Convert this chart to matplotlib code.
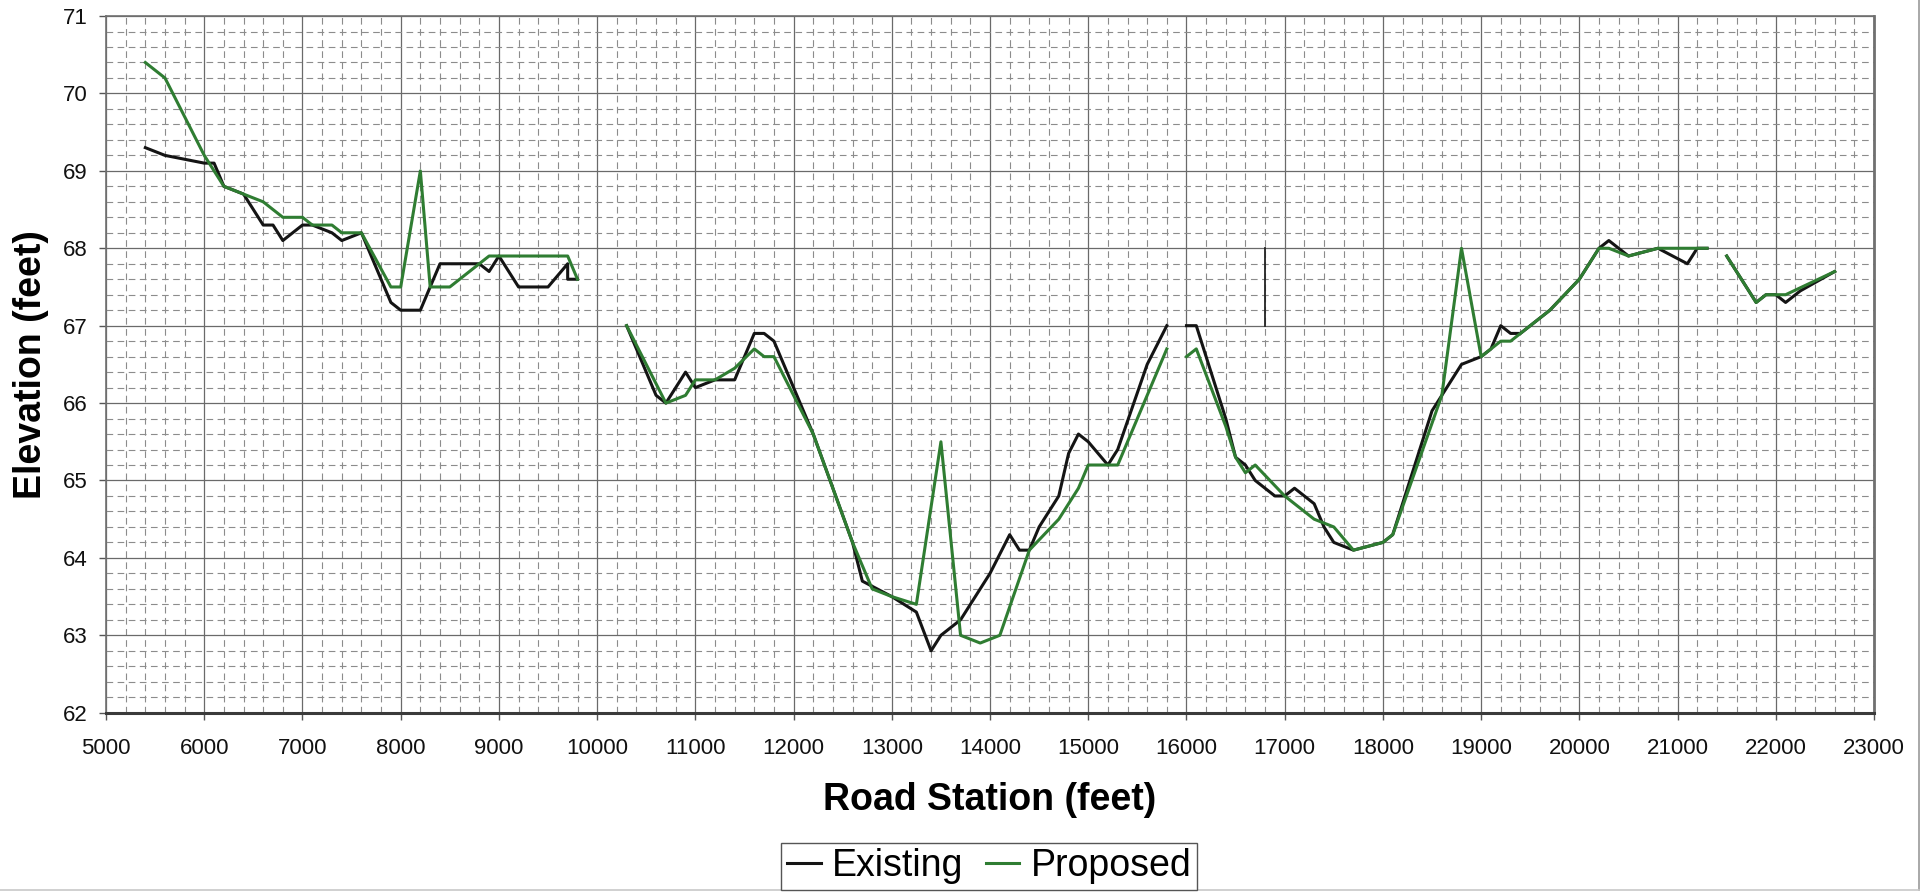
import numpy as np
import matplotlib
matplotlib.use("Agg")
import matplotlib.pyplot as plt
from matplotlib.ticker import MultipleLocator
from matplotlib.lines import Line2D

plt.rcParams["font.family"] = ["Liberation Sans", "DejaVu Sans"]

nan = np.nan

# existing road profile (station ft, elevation ft); nan marks a gap in the survey
existing_station = [
    5400, 5600, 6000, 6100, 6200, 6400, 6600, 6700, 6800, 7000, 7100, 7300, 7400, 7600,
    7900, 8000, 8200, 8400, 8800, 8900, 9000, 9200, 9500, 9700, 9700, 9800, 9900,
    10300, 10600, 10700, 10900, 11000, 11200, 11400, 11600, 11700, 11800, 12200, 12600,
    12700, 13000, 13250, 13400, 13500, 13600, 13700, 13900, 14000, 14200, 14300, 14400,
    14500, 14700, 14800, 14900, 15000, 15200, 15300, 15600, 15800, 15900,
    16000, 16100, 16300, 16400, 16500, 16600, 16700, 16900, 17000, 17100, 17300, 17400,
    17500, 17700, 18000, 18100, 18500, 18600, 18800, 19000, 19100, 19200, 19300, 19400,
    19700, 20000, 20200, 20300, 20500, 20800, 21100, 21200, 21300, 21400,
    21500, 21800, 21900, 22000, 22100, 22250, 22600,
]
existing_elev = [
    69.3, 69.2, 69.1, 69.1, 68.8, 68.7, 68.3, 68.3, 68.1, 68.3, 68.3, 68.2, 68.1, 68.2,
    67.3, 67.2, 67.2, 67.8, 67.8, 67.7, 67.9, 67.5, 67.5, 67.8, 67.6, 67.6, nan,
    67.0, 66.1, 66.0, 66.4, 66.2, 66.3, 66.3, 66.9, 66.9, 66.8, 65.6, 64.2,
    63.7, 63.5, 63.3, 62.8, 63.0, 63.1, 63.2, 63.6, 63.8, 64.3, 64.1, 64.1,
    64.4, 64.8, 65.35, 65.6, 65.5, 65.2, 65.4, 66.5, 67.0, nan,
    67.0, 67.0, 66.2, 65.8, 65.3, 65.2, 65.0, 64.8, 64.8, 64.9, 64.7, 64.4,
    64.2, 64.1, 64.2, 64.3, 65.9, 66.1, 66.5, 66.6, 66.7, 67.0, 66.9, 66.9,
    67.2, 67.6, 68.0, 68.1, 67.9, 68.0, 67.8, 68.0, 68.0, nan,
    67.9, 67.3, 67.4, 67.4, 67.3, 67.45, 67.7,
]

# proposed road profile
proposed_station = [
    5400, 5600, 6000, 6200, 6400, 6600, 6800, 7000, 7100, 7300, 7400, 7600, 7900, 8000,
    8200, 8300, 8500, 8900, 9700, 9800, 9900,
    10300, 10700, 10900, 11000, 11200, 11400, 11600, 11700, 11800, 12200, 12600, 12800,
    13000, 13250, 13500, 13700, 13900, 14100, 14400, 14700, 14900, 15000, 15300, 15800, 15900,
    16000, 16100, 16400, 16500, 16600, 16700, 17000, 17300, 17500, 17700, 18000, 18100,
    18600, 18800, 19000, 19200, 19300, 19700, 20000, 20200, 20300, 20500, 20800, 21300, 21400,
    21500, 21800, 21900, 22100, 22600,
]
proposed_elev = [
    70.4, 70.2, 69.2, 68.8, 68.7, 68.6, 68.4, 68.4, 68.3, 68.3, 68.2, 68.2, 67.5, 67.5,
    69.0, 67.5, 67.5, 67.9, 67.9, 67.6, nan,
    67.0, 66.0, 66.1, 66.3, 66.3, 66.45, 66.7, 66.6, 66.6, 65.6, 64.2, 63.6,
    63.5, 63.4, 65.5, 63.0, 62.9, 63.0, 64.1, 64.5, 64.9, 65.2, 65.2, 66.7, nan,
    66.6, 66.7, 65.7, 65.3, 65.1, 65.2, 64.8, 64.5, 64.4, 64.1, 64.2, 64.3,
    66.1, 68.0, 66.6, 66.8, 66.8, 67.2, 67.6, 68.0, 68.0, 67.9, 68.0, 68.0, nan,
    67.9, 67.3, 67.4, 67.4, 67.7,
]

# short vertical mark left on the profile sheet
mark_station = [16800, 16800]
mark_elev = [67.0, 68.0]

fig = plt.figure(figsize=(19.28, 8.92), dpi=100)
ax = fig.add_axes([0.055, 0.201, 0.917, 0.781])

ax.plot(existing_station, existing_elev, color="#141414", lw=2.2, label="Existing", zorder=3)
ax.plot(proposed_station, proposed_elev, color="#2f7d32", lw=2.2, label="Proposed", zorder=4)
ax.plot(mark_station, mark_elev, color="#222222", lw=1.3, zorder=2)

ax.set_xlim(5000, 23000)
ax.set_ylim(62, 71)
ax.xaxis.set_major_locator(MultipleLocator(1000))
ax.xaxis.set_minor_locator(MultipleLocator(200))
ax.yaxis.set_major_locator(MultipleLocator(1))
ax.yaxis.set_minor_locator(MultipleLocator(0.2))

ax.grid(which="major", color="#6a6a6a", lw=0.9, ls="-", zorder=1)
ax.grid(which="minor", color="#8c8c8c", lw=0.8, ls=(0, (6, 4)), zorder=0)
ax.set_axisbelow(True)

ax.tick_params(which="major", length=5, width=1, color="#555555",
               labelsize=16, labelcolor="#111111")
ax.tick_params(axis="x", which="major", pad=13)
ax.tick_params(axis="y", which="major", pad=8)
ax.tick_params(which="minor", length=0)

for side in ["top", "right", "left"]:
    ax.spines[side].set_color("#707070")
    ax.spines[side].set_linewidth(1.2)
ax.spines["right"].set_linewidth(2)
ax.spines["bottom"].set_color("#3a3a3a")
ax.spines["bottom"].set_linewidth(2.2)

ax.set_xlabel("Road Station (feet)", fontsize=27, fontweight="bold", labelpad=17)
ax.set_ylabel("Elevation (feet)", fontsize=27, fontweight="bold", labelpad=10)

fig.legend(loc="lower center", bbox_to_anchor=(0.513, 0.0), ncol=2, fontsize=27,
           frameon=True, fancybox=False, edgecolor="#555555", framealpha=1,
           handlelength=0.9, handletextpad=0.3, columnspacing=0.6,
           borderpad=0.15, borderaxespad=0.05)

# light border on the right and bottom of the sheet
fig.add_artist(Line2D([0.9955, 0.9955], [0.002, 1.0], transform=fig.transFigure,
                      color="#9a9a9a", lw=1.2))
fig.add_artist(Line2D([0.0, 0.9955], [0.002, 0.002], transform=fig.transFigure,
                      color="#c8c8c8", lw=1.2))

fig.savefig("out.png", dpi=100)
